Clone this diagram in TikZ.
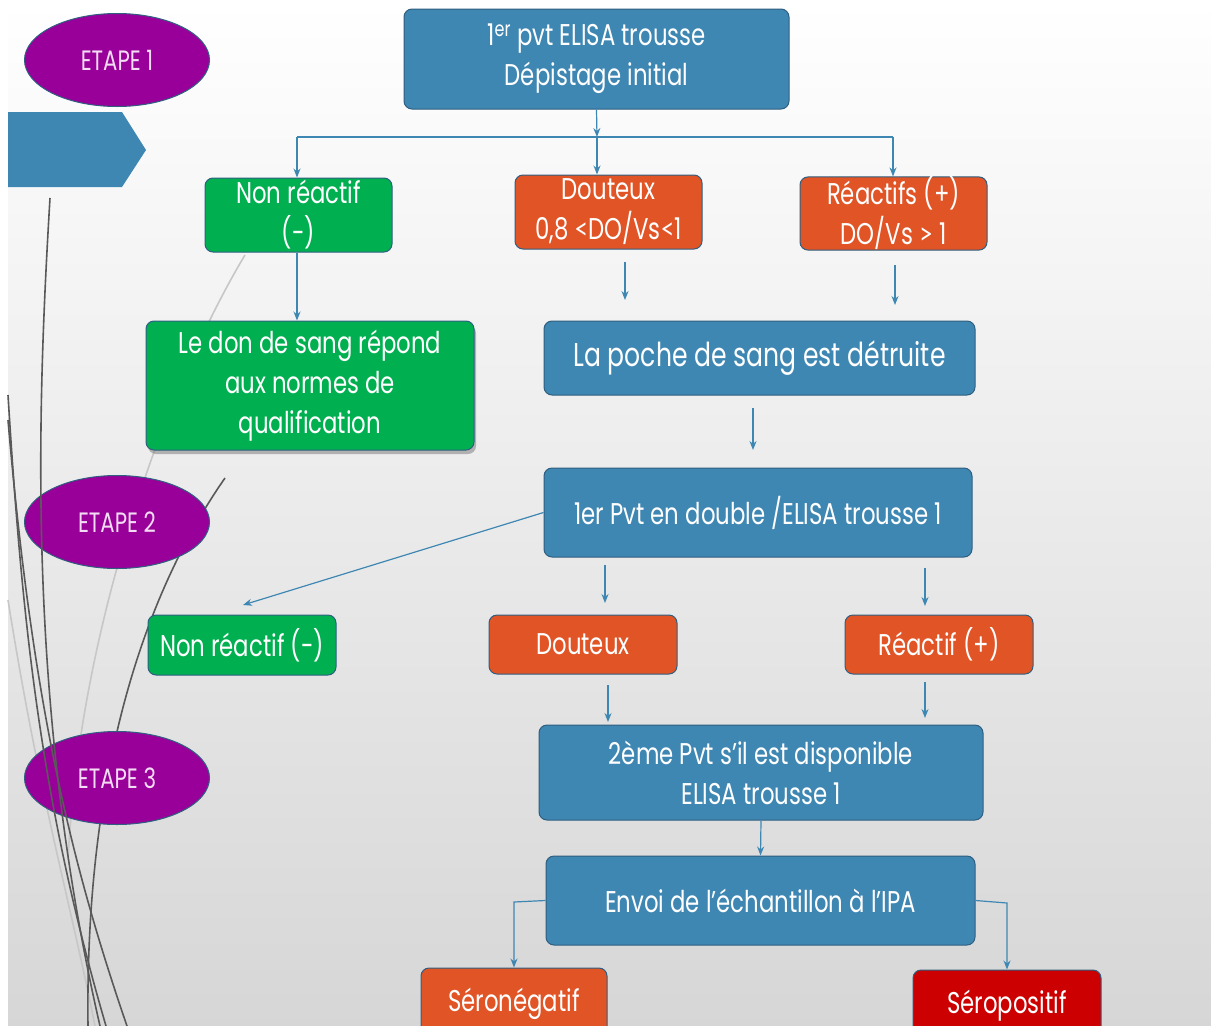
\documentclass[tikz,border=0pt]{standalone}
\usepackage{fontspec}
\setmainfont{Poppins}[FakeStretch=0.76]
\newfontfamily\symfont{Lato}[FakeStretch=0.8]
\usetikzlibrary{arrows.meta,shapes.geometric,shadows}
\definecolor{bluebox}{HTML}{3F87B3}
\definecolor{boxline}{HTML}{2F5F80}
\definecolor{greenbox}{HTML}{00B050}
\definecolor{orangebox}{HTML}{E05426}
\definecolor{redbox}{HTML}{CC0000}
\definecolor{purp}{HTML}{990099}
\definecolor{arrowc}{HTML}{3F87B3}
\definecolor{etxt}{HTML}{F4DDF4}
\tikzset{
  flowbox/.style={rectangle, rounded corners=8pt, draw=boxline, line width=1pt,
    text=white, align=center, inner sep=0pt, font=\fontsize{30}{40}\selectfont},
  bluefill/.style={flowbox, fill=bluebox},
  greenfill/.style={flowbox, fill=greenbox},
  orangefill/.style={flowbox, fill=orangebox},
  redfill/.style={flowbox, fill=redbox},
  stage/.style={ellipse, fill=purp, draw=boxline, line width=1pt, text=etxt,
    minimum width=185pt, minimum height=93pt, inner sep=0pt, font=\fontsize{28}{30}\selectfont},
  conn/.style={draw=arrowc, line width=1.2pt},
  arr/.style={conn, -{Stealth[length=9pt,width=7pt]}},
  deco/.style={draw=black!65, line width=1.6pt},
  decol/.style={draw=black!22, line width=1.6pt}
}
\begin{document}
\begin{tikzpicture}[x=1pt,y=-1pt]
\useasboundingbox (0,0) rectangle (1211,1026);
\clip (0,0) rectangle (1211,1026);
% background
\fill[white] (0,0) rectangle (1211,1026);
\shade[top color=white, bottom color=black!16] (8,0) rectangle (1211,1026);
% chevron
\fill[bluebox] (8,112) -- (122,112) -- (146,150) -- (122,187) -- (8,187) -- cycle;
% decorative curves behind the stages
\draw[decol] (8,600) .. controls (40,800) and (70,900) .. (95,1026);
\draw[decol] (245,255) .. controls (170,380) and (80,620) .. (68,860);
\draw[deco] (225,478) .. controls (140,600) and (85,780) .. (88,1026);
% stage ellipses
\node[stage] (e1) at (117,60) {ETAPE 1};
\node[stage] (e2) at (117,522) {ETAPE 2};
\node[stage] (e3) at (117,778) {ETAPE 3};
% decorative curves in front
\draw[deco] (50,198) .. controls (38,400) and (25,700) .. (100,1026);
\draw[deco] (8,395) .. controls (22,620) and (40,800) .. (106,1026);
\draw[deco] (8,420) .. controls (32,700) and (70,860) .. (127,1026);
% boxes
\node[bluefill, minimum width=385pt, minimum height=100pt] (top) at (596.5,59)
  {1\textsuperscript{er} pvt ELISA trousse\\Dépistage initial};
\node[greenfill, minimum width=187pt, minimum height=74pt] (nr1) at (298.5,215)
  {Non réactif\\(-)};
\node[orangefill, minimum width=187pt, minimum height=74pt] (dt1) at (608.5,212)
  {Douteux\\0,8 {\symfont<}DO/Vs{\symfont<}1};
\node[orangefill, minimum width=187pt, minimum height=73pt] (re1) at (893.5,213.5)
  {Réactifs (+)\\DO/Vs {\symfont>} 1};
\node[greenfill, minimum width=328pt, minimum height=129pt,
  drop shadow={opacity=0.55, shadow xshift=2pt, shadow yshift=-4pt}] (don) at (310,385.5)
  {Le don de sang répond\\aux normes de\\qualification};
\node[bluefill, minimum width=431pt, minimum height=74pt, font=\fontsize{33}{40}\selectfont] (poche) at (759.5,358)
  {La poche de sang est détruite};
\node[bluefill, minimum width=428pt, minimum height=89pt] (pvt1) at (758,512.5)
  {1er Pvt en double /ELISA trousse 1};
\node[greenfill, minimum width=188pt, minimum height=60pt] (nr2) at (242,645)
  {Non réactif (-)};
\node[orangefill, minimum width=188pt, minimum height=59pt] (dt2) at (583,644.5)
  {Douteux};
\node[orangefill, minimum width=188pt, minimum height=59pt] (re2) at (939,644.5)
  {Réactif (+)};
\node[bluefill, minimum width=444pt, minimum height=95pt] (pvt2) at (761,772.5)
  {2ème Pvt s'il est disponible\\ELISA trousse 1};
\node[bluefill, minimum width=429pt, minimum height=89pt] (envoi) at (760.5,900.5)
  {Envoi de l'échantillon à l'IPA};
\node[orangefill, minimum width=186pt, minimum height=72pt] (neg) at (514,1004)
  {Séronégatif};
\node[redfill, minimum width=188pt, minimum height=72pt] (pos) at (1007,1006)
  {Séropositif};
% coordinates for free arrows
\coordinate (j) at (597,137);
\coordinate (jl) at (297,137);
\coordinate (jr) at (893,137);
\coordinate (a1s) at (625,262); \coordinate (a1e) at (625,300);
\coordinate (a2s) at (895,265); \coordinate (a2e) at (895,305);
\coordinate (a3s) at (753,408); \coordinate (a3e) at (753,450);
\coordinate (nrt) at (243,605);
\coordinate (a4s) at (605,565); \coordinate (a4e) at (605,603);
\coordinate (a5s) at (925,568); \coordinate (a5e) at (925,606);
\coordinate (a6s) at (608,685); \coordinate (a6e) at (608,722);
\coordinate (a7s) at (925,682); \coordinate (a7e) at (925,718);
\coordinate (el) at (514,902);
\coordinate (er) at (1007,903);
% connectors
\draw[arr] (top.south) -- (j);
\draw[conn] (jl) -- (jr);
\draw[arr] (j) -- (dt1.north -| j);
\draw[arr] (jl) -- (nr1.north -| jl);
\draw[arr] (jr) -- (re1.north -| jr);
\draw[arr] (nr1.south -| jl) -- (don.north -| jl);
\draw[arr] (a1s) -- (a1e);
\draw[arr] (a2s) -- (a2e);
\draw[arr] (a3s) -- (a3e);
\draw[arr] (pvt1.west) -- (nrt);
\draw[arr] (a4s) -- (a4e);
\draw[arr] (a5s) -- (a5e);
\draw[arr] (a6s) -- (a6e);
\draw[arr] (a7s) -- (a7e);
\draw[arr] (pvt2.south) -- (envoi.north);
\draw[arr] (envoi.west) -- (el) -- (neg.north -| el);
\draw[arr] (envoi.east) -- (er) -- (pos.north -| er);
\end{tikzpicture}
\end{document}
